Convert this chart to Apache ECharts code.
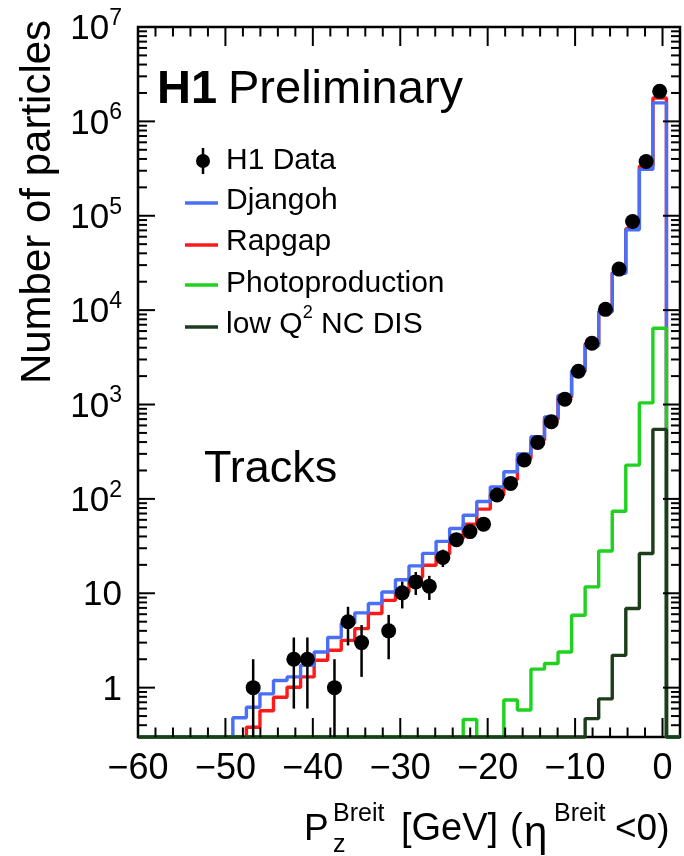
<!DOCTYPE html>
<html>
<head>
<meta charset="utf-8">
<script src="https://cdn.jsdelivr.net/npm/echarts@6/dist/echarts.min.js"></script>
<style>
html,body{margin:0;padding:0;background:#fff;}
#chart{width:684px;height:856px;}
</style>
</head>
<body>
<div id="chart"></div>
<script>
// ---- axis ranges / binning ----
const X_MIN = -60, X_MAX = 2, BIN_WIDTH = 1.55;
const Y_MIN = 0.3, Y_MAX = 1e7;
const xTickLabels = [-60, -50, -40, -30, -20, -10, 0];
const yTickLabels = [1, 10, 100, 1e3, 1e4, 1e5, 1e6, 1e7];

// ---- per-bin values (40 bins from -60 to 2 GeV) ----
const h1Data = [null,null,null,null,null,null,null,null,
  1.0, null, null, 2.0, 2.0, null, 1.0, 5.0, 3.0, null, 4.0, 10.1,
  13.2, 11.9, 24, 37, 45, 54, 110, 146, 258, 397,
  657, 1140, 2250, 4460, 10200, 27200, 86900, 376000, 2080000, null];
const h1ErrLow = [null,null,null,null,null,null,null,null,
  0, null, null, 0.6, 0.6, null, 0, 2.8, 1.3, null, 2.0, 6.9,
  9.6, 8.5, 19, 31, null, null, null, null, null, null,
  null, null, null, null, null, null, null, null, null, null];
const h1ErrHigh = [null,null,null,null,null,null,null,null,
  2.0, null, null, 3.4, 3.4, null, 2.0, 7.2, 4.6, null, 5.9, 13.3,
  16.8, 15.3, 29, 43, null, null, null, null, null, null,
  null, null, null, null, null, null, null, null, null, null];
const djangoh = [0,0,0,0,0,0,0,
  0.48, 0.62, 0.86, 1.19, 1.30, 1.72, 2.39, 3.4, 4.8, 6.2, 7.8, 10.3, 13.9,
  19.5, 26.5, 35.5, 48.5, 67, 94, 134, 194, 300, 455,
  740, 1250, 2300, 4200, 9600, 24500, 71000, 310000, 1570000, 0];
const rapgap = [0,0,0,0,0,0,0,0,
  0.38, 0.57, 0.79, 1.01, 1.30, 1.95, 2.49, 3.17, 4.22, 6.1, 8.4, 10.3,
  14.8, 19.8, 26, 38, 54, 78, 110, 160, 270, 420,
  700, 1200, 2250, 4400, 9700, 25000, 73000, 336000, 1770000, 0];
const photoproduction = [0,0,0,0,0,0,0,0,0,0,0,0,0,0,0,0,0,0,0,0,0,0,0,0,
  0.46, 0, 0, 0.74, 0.58, 1.57, 1.80, 2.39, 5.85, 11.7,
  28, 74, 228, 1040, 6430, 0];
const lowQ2 = [0,0,0,0,0,0,0,0,0,0,0,0,0,0,0,0,0,0,0,0,0,0,0,0,0,0,0,0,0,0,0,0,0,
  0.47, 0.76, 2.2, 6.9, 26.4, 545, 0];

const FONT = 'Liberation Sans, Arial, Helvetica, sans-serif';
const C_BLUE = '#4a6ff5', C_RED = '#ff1a1a', C_GREEN = '#1ed21e', C_DKGREEN = '#1b3d1b';

function binLo(k) { return X_MIN + k * BIN_WIDTH; }
function binCenter(k) { return X_MIN + (k + 0.5) * BIN_WIDTH; }

function stepData(vals) {
  const pts = [];
  vals.forEach(function (v, k) {
    const y = v > 0 ? v : Y_MIN;
    pts.push([binLo(k), y], [binLo(k + 1), y]);
  });
  return pts;
}

const pointData = [];
const errData = [];
h1Data.forEach(function (v, k) {
  if (v != null) pointData.push([binCenter(k), v]);
  if (h1ErrHigh[k] != null) {
    errData.push([binCenter(k), Math.max(h1ErrLow[k], Y_MIN), h1ErrHigh[k]]);
  }
});

// ---- tick descriptors (frame ticks on all four sides) ----
const ticks = [];
xTickLabels.forEach(function (v) { ticks.push({ axis: 'x', v: v, len: 19 }); });
for (let v = -58; v < 0.5; v += 2) {
  if (Math.abs(v % 10) > 0.01) ticks.push({ axis: 'x', v: v, len: 9.5 });
}
yTickLabels.forEach(function (v) { ticks.push({ axis: 'y', v: v, len: 17 }); });
for (let n = -1; n <= 6; n++) {
  for (let m = 2; m <= 9; m++) {
    const v = m * Math.pow(10, n);
    if (v > Y_MIN * 1.001 && v < Y_MAX) ticks.push({ axis: 'y', v: v, len: 9 });
  }
}
const tickData = ticks.map(function (t) { return t.axis === 'x' ? [t.v, Y_MIN] : [X_MIN, t.v]; });

function yLabel(v) {
  const n = Math.round(Math.log10(v));
  const p = Math.pow(10, n);
  if (Math.abs(v - p) / p > 1e-6) return '';
  if (n === 0) return '{b|1}';
  if (n === 1) return '{b|10}';
  return '{b|10}{s|' + n + '}';
}

function histSeries(name, vals, color, z) {
  return {
    name: name, type: 'line', data: stepData(vals), showSymbol: false, symbol: 'none',
    lineStyle: { color: color, width: 3.4, opacity: 1 }, itemStyle: { color: color },
    clip: false, z: z, silent: true, animation: false
  };
}

const chart = echarts.init(document.getElementById('chart'), null, { renderer: 'canvas' });
chart.setOption({
  backgroundColor: '#fff',
  animation: false,
  grid: { left: 138, right: 4, top: 27, bottom: 119, show: true, borderColor: '#000', borderWidth: 2.5, backgroundColor: 'transparent' },
  xAxis: {
    type: 'value', min: X_MIN, max: X_MAX, interval: 10,
    axisLine: { show: false }, axisTick: { show: false }, splitLine: { show: false },
    axisLabel: {
      color: '#000', fontSize: 36, fontFamily: FONT, margin: 14, showMaxLabel: false,
      formatter: function (v) { return v < 0 ? '\u2212' + Math.abs(v) : String(v); }
    }
  },
  yAxis: {
    type: 'log', logBase: 10, min: Y_MIN, max: Y_MAX,
    axisLine: { show: false }, axisTick: { show: false }, splitLine: { show: false }, minorTick: { show: false },
    axisLabel: {
      color: '#000', fontFamily: FONT, margin: 16, showMinLabel: false,
      formatter: yLabel,
      rich: {
        b: { fontSize: 35, fontFamily: FONT, color: '#000', lineHeight: 40, verticalAlign: 'bottom' },
        s: { fontSize: 23, fontFamily: FONT, color: '#000', lineHeight: 23, verticalAlign: 'top' }
      }
    }
  },
  series: [
    histSeries('Rapgap', rapgap, C_RED, 2),
    histSeries('Djangoh', djangoh, C_BLUE, 3),
    histSeries('Photoproduction', photoproduction, C_GREEN, 4),
    histSeries('low Q2 NC DIS', lowQ2, C_DKGREEN, 5),
    {
      name: 'H1 Data errors', type: 'custom', data: errData, z: 6, silent: true,
      encode: { x: 0, y: [1, 2] },
      renderItem: function (params, api) {
        const x = api.value(0);
        const p0 = api.coord([x, api.value(1)]);
        const p1 = api.coord([x, api.value(2)]);
        return { type: 'line', shape: { x1: p0[0], y1: p0[1], x2: p1[0], y2: p1[1] }, style: { stroke: '#000', lineWidth: 2.5 } };
      }
    },
    {
      name: 'H1 Data', type: 'scatter', data: pointData, symbol: 'circle', symbolSize: 15,
      itemStyle: { color: '#000', opacity: 1 }, z: 7, silent: true
    },
    {
      name: 'frame ticks', type: 'custom', data: tickData, z: 8, silent: true,
      encode: { x: 0, y: 1 },
      renderItem: function (params, api) {
        const t = ticks[params.dataIndex];
        const st = { stroke: '#000', lineWidth: 2 };
        if (t.axis === 'x') {
          const b = api.coord([t.v, Y_MIN]);
          const tp = api.coord([t.v, Y_MAX]);
          return { type: 'group', children: [
            { type: 'line', shape: { x1: b[0], y1: b[1], x2: b[0], y2: b[1] - t.len }, style: st },
            { type: 'line', shape: { x1: tp[0], y1: tp[1], x2: tp[0], y2: tp[1] + t.len }, style: st }
          ] };
        }
        const l = api.coord([X_MIN, t.v]);
        const r = api.coord([X_MAX, t.v]);
        return { type: 'group', children: [
          { type: 'line', shape: { x1: l[0], y1: l[1], x2: l[0] + t.len, y2: l[1] }, style: st },
          { type: 'line', shape: { x1: r[0], y1: r[1], x2: r[0] - t.len, y2: r[1] }, style: st }
        ] };
      }
    }
  ],
  graphic: [
    // y-axis title
    { type: 'text', x: 38, y: 202, rotation: Math.PI / 2,
      style: { text: 'Number of particles', fontSize: 42, fontFamily: FONT, fill: '#000', align: 'center', verticalAlign: 'middle' } },
    // x-axis title pieces
    { type: 'text', x: 304, y: 830, style: { text: 'P', fontSize: 37, fontFamily: FONT, fill: '#000', align: 'left', verticalAlign: 'middle' } },
    { type: 'text', x: 333, y: 845, style: { text: 'z', fontSize: 25, fontFamily: FONT, fill: '#000', align: 'left', verticalAlign: 'middle' } },
    { type: 'text', x: 333, y: 814, style: { text: 'Breit', fontSize: 25, fontFamily: FONT, fill: '#000', align: 'left', verticalAlign: 'middle' } },
    { type: 'text', x: 401, y: 830, style: { text: '[GeV]', fontSize: 38, fontFamily: FONT, fill: '#000', align: 'left', verticalAlign: 'middle' } },
    { type: 'text', x: 510, y: 830, style: { text: '(', fontSize: 38, fontFamily: FONT, fill: '#000', align: 'left', verticalAlign: 'middle' } },
    { type: 'text', x: 524, y: 834, style: { text: '\u03b7', fontSize: 42, fontFamily: FONT, fill: '#000', align: 'left', verticalAlign: 'middle' } },
    { type: 'text', x: 554, y: 814, style: { text: 'Breit', fontSize: 25, fontFamily: FONT, fill: '#000', align: 'left', verticalAlign: 'middle' } },
    { type: 'text', x: 615, y: 830, style: { text: '<0)', fontSize: 37, fontFamily: FONT, fill: '#000', align: 'left', verticalAlign: 'middle' } },
    // H1 Preliminary
    { type: 'text', x: 157, y: 90, style: { text: 'H1', fontSize: 47, fontWeight: 'bold', fontFamily: FONT, fill: '#000', align: 'left', verticalAlign: 'middle' } },
    { type: 'text', x: 228, y: 90, style: { text: 'Preliminary', fontSize: 47, fontFamily: FONT, fill: '#000', align: 'left', verticalAlign: 'middle' } },
    // Tracks
    { type: 'text', x: 204, y: 470, style: { text: 'Tracks', fontSize: 45, fontFamily: FONT, fill: '#000', align: 'left', verticalAlign: 'middle' } },
    // legend
    { type: 'line', shape: { x1: 203, y1: 148, x2: 203, y2: 174 }, style: { stroke: '#000', lineWidth: 2.5 } },
    { type: 'circle', shape: { cx: 203, cy: 161, r: 7 }, style: { fill: '#000' } },
    { type: 'text', x: 226, y: 161, style: { text: 'H1 Data', fontSize: 30, fontFamily: FONT, fill: '#000', align: 'left', verticalAlign: 'middle' } },
    { type: 'line', shape: { x1: 185, y1: 203, x2: 218, y2: 203 }, style: { stroke: C_BLUE, lineWidth: 3.5 } },
    { type: 'text', x: 226, y: 201, style: { text: 'Djangoh', fontSize: 30, fontFamily: FONT, fill: '#000', align: 'left', verticalAlign: 'middle' } },
    { type: 'line', shape: { x1: 185, y1: 245, x2: 218, y2: 245 }, style: { stroke: C_RED, lineWidth: 3.5 } },
    { type: 'text', x: 226, y: 242, style: { text: 'Rapgap', fontSize: 30, fontFamily: FONT, fill: '#000', align: 'left', verticalAlign: 'middle' } },
    { type: 'line', shape: { x1: 185, y1: 285, x2: 218, y2: 285 }, style: { stroke: C_GREEN, lineWidth: 3.5 } },
    { type: 'text', x: 226, y: 284, style: { text: 'Photoproduction', fontSize: 30, fontFamily: FONT, fill: '#000', align: 'left', verticalAlign: 'middle' } },
    { type: 'line', shape: { x1: 185, y1: 327, x2: 218, y2: 327 }, style: { stroke: C_DKGREEN, lineWidth: 3.5 } },
    { type: 'text', x: 226, y: 322, style: { text: '{b|low Q}{s|2}{b| NC DIS}', fill: '#000', align: 'left', verticalAlign: 'middle',
      rich: { b: { fontSize: 30, fontFamily: FONT, fill: '#000', lineHeight: 36, verticalAlign: 'bottom' },
              s: { fontSize: 18, fontFamily: FONT, fill: '#000', lineHeight: 18, verticalAlign: 'top' } } } }
  ]
});
</script>
</body>
</html>
